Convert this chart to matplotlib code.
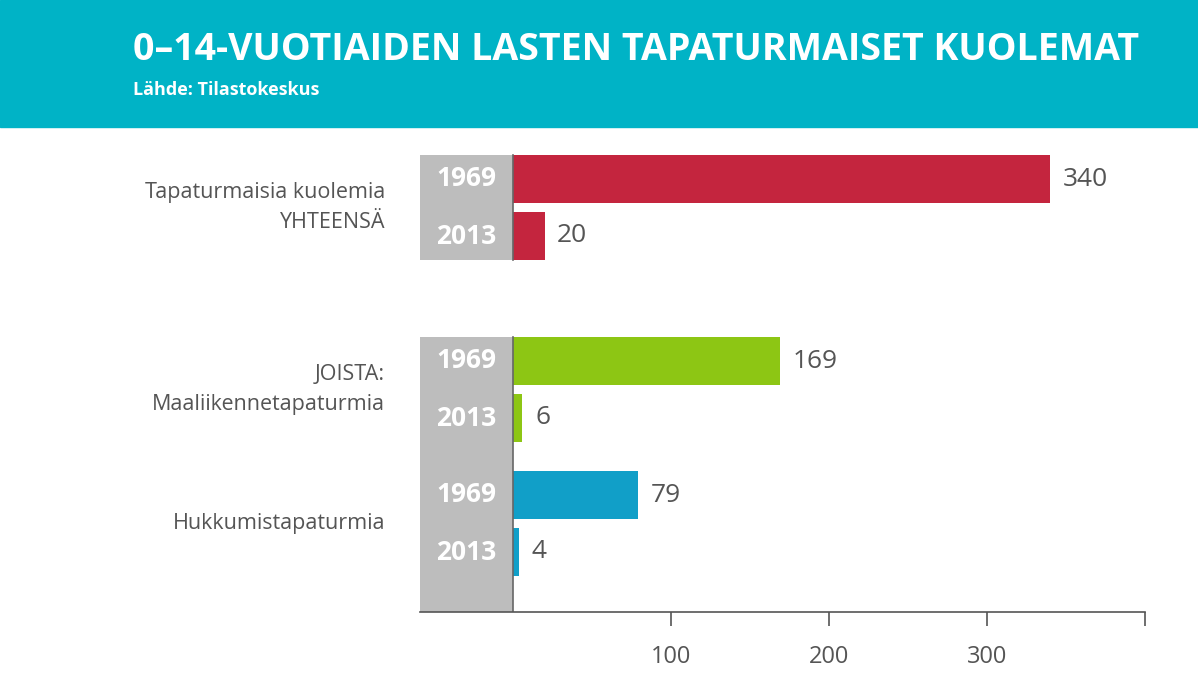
import matplotlib.pyplot as plt

years = ['1969', '2013']
categories = ['Tapaturmaisia kuolemia\nYHTEENSÄ', 'JOISTA:\nMaaliikennetapaturmia', 'Hukkumistapaturmia']
values = [[340, 20], [169, 6], [79, 4]]
colors = ['#c4253e', '#8dc614', '#119fc8']
xticks = [100, 200, 300]

W, H = 1198, 674
fig = plt.figure(figsize=(W / 100, H / 100), dpi=100)
fig.patch.set_facecolor('white')

# header band
fig.patches.append(plt.Rectangle((0, 1 - 127 / H), 1, 127 / H, transform=fig.transFigure,
                                 color='#00b3c6', zorder=0))
fig.text(133 / W, 1 - 50 / H, '0–14-VUOTIAIDEN LASTEN TAPATURMAISET KUOLEMAT', color='white',
         fontsize=27, fontweight='bold', family='Open Sans', va='center', ha='left')
fig.text(133 / W, 1 - 90 / H, 'Lähde: Tilastokeskus', color='white', fontsize=13,
         fontweight='bold', family='Open Sans', va='center', ha='left')

# axes in pixel-like y units
ax = fig.add_axes([420 / W, 1 - 612 / H, (1145 - 420) / W, (612 - 140) / H])
ax.set_ylim(612, 140)
x0 = -(513 - 420) / 1.58
ax.set_xlim(x0, 400)

centers = [(179, 236), (361, 418), (495, 552)]
bh = 48
# gray year boxes
ax.axvspan(x0, 0, ymin=(612 - 260) / 472, ymax=(612 - 155) / 472, color='#bdbdbd', lw=0)
ax.axvspan(x0, 0, ymin=0, ymax=(612 - 337) / 472, color='#bdbdbd', lw=0)
ax.axvline(0, ymin=(612 - 260) / 472, ymax=(612 - 155) / 472, color='#666666', lw=1.2)
ax.axvline(0, ymin=0, ymax=(612 - 337) / 472, color='#666666', lw=1.2)

for cat, vals, col, cs in zip(categories, values, colors, centers):
    for yr, v, c in zip(years, vals, cs):
        ax.barh(c, v, height=bh, color=col, lw=0)
        ax.text(x0 / 2, c, yr, color='white', fontsize=19, fontweight='bold',
                family='Open Sans', ha='center', va='center')
        ax.text(v + 8, c, str(v), color='#555555', fontsize=19, family='Open Sans',
                ha='left', va='center')
    ax.text(x0 - 22, (cs[0] + cs[1]) / 2, cat, color='#555555', fontsize=15.5,
            family='Open Sans', ha='right', va='center', linespacing=1.6)

for s in ['top', 'right', 'left']:
    ax.spines[s].set_visible(False)
ax.spines['bottom'].set_color('#555555')
ax.spines['bottom'].set_linewidth(1.2)
ax.set_yticks([])
ax.set_xticks(xticks + [400])
ax.set_xticklabels([str(t) for t in xticks] + [''], fontsize=17, color='#555555', family='Open Sans')
ax.tick_params(axis='x', direction='out', length=10, width=1.2, color='#555555', pad=14)

fig.savefig('out.png', dpi=100)
